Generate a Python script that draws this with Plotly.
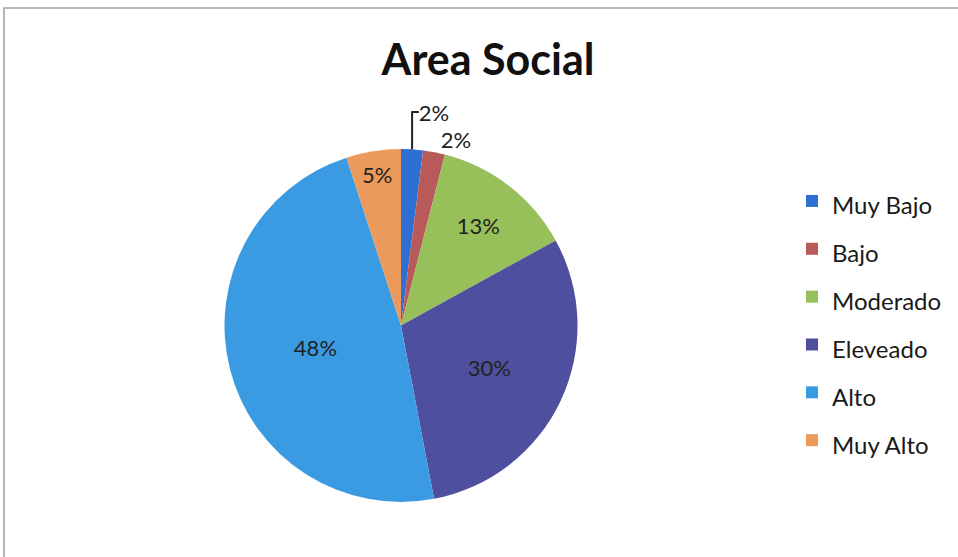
import plotly.graph_objects as go

categories = ["Muy Bajo", "Bajo", "Moderado", "Eleveado", "Alto", "Muy Alto"]
values = [2, 2, 13, 30, 48, 5]
colors = ["#2f6fd3", "#b85a5a", "#97c05a", "#4f4f9f", "#3b9be2", "#eb9a5c"]
text_positions = ["outside", "outside", "inside", "inside", "inside", "inside"]

legend_labels = [f'<span style="font-size:24px">{c}</span>' for c in categories]

W, H = 958, 557

fig = go.Figure(go.Pie(
    labels=legend_labels,
    values=values,
    sort=False,
    direction="clockwise",
    rotation=0,
    marker=dict(colors=colors, line=dict(width=0)),
    textinfo="percent",
    texttemplate="%{percent:.0%}",
    textposition=text_positions,
    insidetextorientation="horizontal",
    textfont=dict(family="Lato", size=22, color="#222222"),
    domain=dict(x=[224 / W, 578 / W], y=[1 - 502 / H, 1 - 149 / H]),
    hovertemplate="%{label}: %{value}<extra></extra>",
))

fig.update_layout(
    width=W, height=H,
    margin=dict(l=0, r=0, t=0, b=0),
    paper_bgcolor="white",
    plot_bgcolor="white",
    title=dict(text="<b>Area Social</b>", x=488 / W, xanchor="center",
               y=1 - 60 / H, yanchor="middle",
               font=dict(family="Lato", size=43, color="#111111")),
    showlegend=True,
    legend=dict(x=792 / W, xanchor="left", y=1 - 172 / H, yanchor="top",
                font=dict(family="Lato", size=34.5, color="#1a1a1a"),
                bgcolor="rgba(0,0,0,0)"),
    shapes=[dict(type="rect", xref="paper", yref="paper",
                 x0=4 / W, x1=1.02, y0=-0.02, y1=1 - 8 / H,
                 line=dict(color="#a0a0a0", width=1.5))],
)

fig.write_html("out.html", config={"displayModeBar": False},
               post_script="document.body.style.margin='0';document.body.style.overflow='hidden';")
